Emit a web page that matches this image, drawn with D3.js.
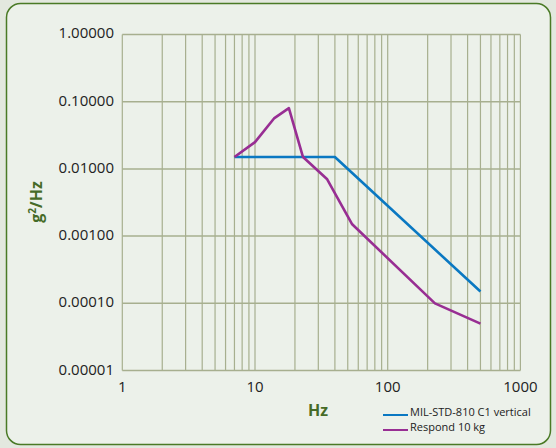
<!DOCTYPE html>
<html>
<head>
<meta charset="utf-8">
<script src="https://cdn.jsdelivr.net/npm/d3@7"></script>
<style>
  html, body { margin: 0; padding: 0; background: #e3e8df; }
  #chart { width: 556px; height: 448px; }
  text { font-family: "Open Sans", "Noto Sans", sans-serif; }
</style>
</head>
<body>
<div id="chart"></div>
<script>
const width = 556;
const height = 448;

// Frequencies (Hz) and PSD values (g^2/Hz)
const milFreq = [7, 40, 500];
const milPsd = [0.015, 0.015, 0.00015];

const respFreq = [7, 10, 14, 18, 23, 35, 54, 227, 500];
const respPsd = [0.015, 0.025, 0.057, 0.08, 0.015, 0.007, 0.0015, 0.0001, 0.00005];

const seriesNames = ["MIL-STD-810 C1 vertical", "Respond 10 kg"];
const seriesColors = ["#0a78c2", "#982e93"];

const xTicks = [1, 10, 100, 1000];
const yTicks = [1, 0.1, 0.01, 0.001, 0.0001, 0.00001];
const yTickLabels = ["1.00000", "0.10000", "0.01000", "0.00100", "0.00010", "0.00001"];

const svg = d3.select("#chart").append("svg").attr("width", width).attr("height", height);

// panel
svg.append("rect")
  .attr("x", 6.5).attr("y", 3.5)
  .attr("width", 544).attr("height", 441)
  .attr("rx", 14)
  .attr("fill", "#ecf1ea")
  .attr("stroke", "#4a7a26")
  .attr("stroke-width", 1.5);

const x = d3.scaleLog().domain([1, 1000]).range([122.3, 520.4]);
const y = d3.scaleLog().domain([0.00001, 1]).range([370.6, 34.4]);

const gridColor = "#a7af8f";
const g = svg.append("g");

// vertical grid (every integer within decades)
const vLines = [];
for (let d = 1; d < 1000; d *= 10) {
  for (let k = 1; k <= 10; k++) vLines.push(d * k);
}
g.selectAll("line.v")
  .data(Array.from(new Set(vLines)))
  .join("line")
  .attr("class", "v")
  .attr("x1", d => x(d)).attr("x2", d => x(d))
  .attr("y1", y(1)).attr("y2", y(0.00001))
  .attr("stroke", gridColor)
  .attr("stroke-width", 1.2);

// horizontal grid at decades
g.selectAll("line.h")
  .data(yTicks)
  .join("line")
  .attr("class", "h")
  .attr("x1", x(1)).attr("x2", x(1000))
  .attr("y1", d => y(d)).attr("y2", d => y(d))
  .attr("stroke", gridColor)
  .attr("stroke-width", 1.5);

// y tick labels
svg.selectAll("text.yt")
  .data(yTicks)
  .join("text")
  .attr("class", "yt")
  .attr("x", 114)
  .attr("y", d => y(d) + 4)
  .attr("text-anchor", "end")
  .attr("font-size", 15)
  .attr("fill", "#222")
  .text((d, i) => yTickLabels[i]);

// x tick labels
svg.selectAll("text.xt")
  .data(xTicks)
  .join("text")
  .attr("class", "xt")
  .attr("x", d => x(d))
  .attr("y", 392)
  .attr("text-anchor", "middle")
  .attr("font-size", 15)
  .attr("fill", "#222")
  .text(d => d);

// axis titles
svg.append("text")
  .attr("x", 318).attr("y", 416)
  .attr("text-anchor", "middle")
  .attr("font-size", 16)
  .attr("font-weight", "bold")
  .attr("fill", "#466b27")
  .text("Hz");

const yl = svg.append("text")
  .attr("transform", "translate(42,202) rotate(-90)")
  .attr("text-anchor", "middle")
  .attr("font-size", 16)
  .attr("font-weight", "bold")
  .attr("fill", "#466b27");
yl.append("tspan").text("g");
yl.append("tspan").attr("font-size", 10).attr("dy", -6).text("2");
yl.append("tspan").attr("dy", 6).text("/Hz");

// lines
const line = d3.line().x(d => x(d[0])).y(d => y(d[1]));
const series = [
  d3.zip(milFreq, milPsd),
  d3.zip(respFreq, respPsd)
];
svg.selectAll("path.series")
  .data(series)
  .join("path")
  .attr("class", "series")
  .attr("d", line)
  .attr("fill", "none")
  .attr("stroke", (d, i) => seriesColors[i])
  .attr("stroke-width", 2.6)
  .attr("stroke-linejoin", "round");

// legend
const lg = svg.append("g").selectAll("g")
  .data(seriesNames)
  .join("g")
  .attr("transform", (d, i) => `translate(383,${415 + i * 15})`);
lg.append("line")
  .attr("x1", 0).attr("x2", 25)
  .attr("stroke", (d, i) => seriesColors[i])
  .attr("stroke-width", 2);
lg.append("text")
  .attr("x", 27).attr("y", 1)
  .attr("font-size", 11)
  .attr("fill", "#222")
  .text(d => d);
</script>
</body>
</html>
